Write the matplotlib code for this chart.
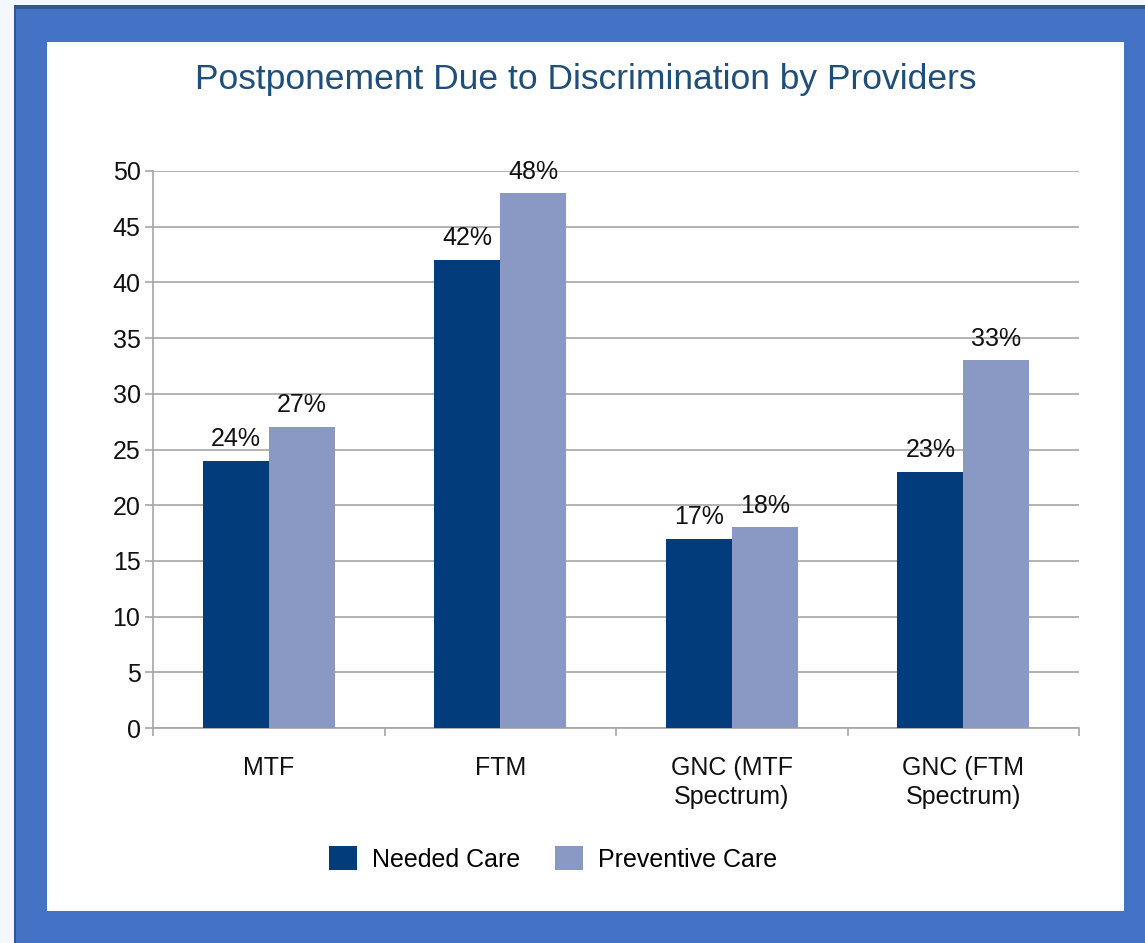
import matplotlib
matplotlib.use('Agg')
import matplotlib.pyplot as plt
from matplotlib.patches import Rectangle
import numpy as np

categories = ['MTF', 'FTM', 'GNC (MTF\nSpectrum)', 'GNC (FTM\nSpectrum)']
needed = [24, 42, 17, 23]
preventive = [27, 48, 18, 33]
series_names = ['Needed Care', 'Preventive Care']
title = 'Postponement Due to Discrimination by Providers'

dark = '#023C7A'
light = '#8A99C3'
frame = '#4472C4'

plt.rcParams['font.family'] = ['Liberation Sans', 'DejaVu Sans']

W, H = 1145, 943
fig = plt.figure(figsize=(W / 100, H / 100), dpi=100)
fig.patch.set_facecolor('#F3F8FC')

def px(x0, y0, x1, y1):
    # pixel box (top-left origin) -> figure coords
    return (x0 / W, 1 - y1 / H), (x1 - x0) / W, (y1 - y0) / H

for box, col in [((14, 5, W, H), '#2F5597'), ((16, 9, W, H), frame), ((47, 42, 1124, 911), 'white')]:
    xy, w, h = px(*box)
    fig.patches.append(Rectangle(xy, w, h, transform=fig.transFigure, facecolor=col, edgecolor='none', zorder=-10))

(ax_x, ax_y), ax_w, ax_h = px(153, 171, 1079, 728)
ax = fig.add_axes([ax_x, ax_y, ax_w, ax_h])
ax.set_facecolor('none')

x = np.arange(len(categories))
bw = 0.285
b1 = ax.bar(x - bw / 2, needed, bw, color=dark, label=series_names[0], zorder=3)
b2 = ax.bar(x + bw / 2, preventive, bw, color=light, label=series_names[1], zorder=3)

for bars, vals in [(b1, needed), (b2, preventive)]:
    for rect, v in zip(bars, vals):
        ax.annotate('%d%%' % v, (rect.get_x() + rect.get_width() / 2, v),
                    xytext=(0, 7), textcoords='offset points',
                    ha='center', va='bottom', fontsize=18, color='#111111')

ax.set_xlim(-0.5, len(categories) - 0.5)
ax.set_ylim(0, 50)
ax.set_yticks(range(0, 51, 5))
ax.yaxis.grid(True, color='#A6A6A6', linewidth=1.2, zorder=0)
ax.set_axisbelow(True)
for s in ['top', 'right']:
    ax.spines[s].set_visible(False)
for s in ['left', 'bottom']:
    ax.spines[s].set_color('#A6A6A6')
    ax.spines[s].set_linewidth(1.2)

ax.set_xticks(x)
ax.set_xticklabels(categories, fontsize=18, color='#111111', linespacing=1.25)
ax.tick_params(axis='x', which='major', length=0, pad=20)
ax.set_xticks(np.arange(-0.5, len(categories), 1), minor=True)
ax.tick_params(axis='x', which='minor', length=6, color='#A6A6A6', width=1.2)
ax.tick_params(axis='y', length=6, color='#A6A6A6', width=1.2, labelsize=18, labelcolor='#111111', pad=3)

fig.text((47 + 1124) / 2 / W, 1 - 80 / H, title, ha='center', va='center',
         fontsize=25.5, color='#1F4E79')

fig.legend(handles=[b1, b2], labels=series_names, loc='center', bbox_to_anchor=(553 / W, 1 - 859 / H),
           ncol=2, frameon=False, fontsize=18, handlelength=1.1, handleheight=1.1,
           columnspacing=1.4, handletextpad=0.6)

fig.savefig('out.png', dpi=100, facecolor=fig.get_facecolor())
